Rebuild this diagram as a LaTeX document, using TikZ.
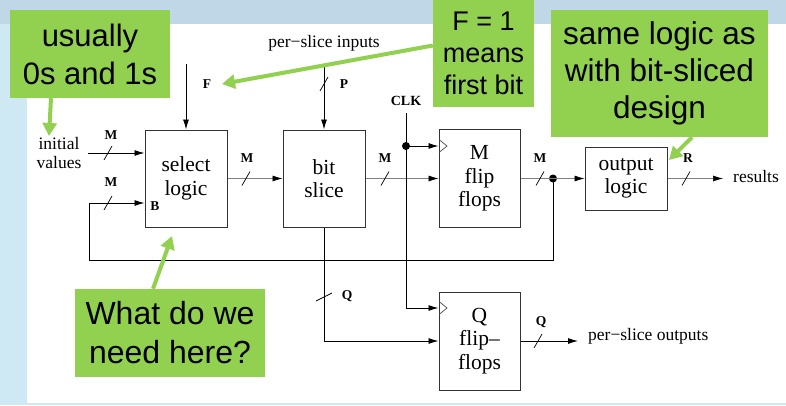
\documentclass[tikz,border=0pt]{standalone}
\usepackage{fontspec}
\setmainfont{Liberation Serif}
\newfontfamily\callfont{Liberation Sans}
\usetikzlibrary{arrows.meta}
\definecolor{callgreen}{RGB}{146,208,80}
\definecolor{topband}{RGB}{191,215,230}
\definecolor{sideband}{RGB}{207,233,244}
\begin{document}
\begin{tikzpicture}[x=1pt,y=-1pt,
  blk/.style={draw=black!80, line width=1pt, minimum width=82pt, minimum height=97pt, align=center, font=\fontsize{21.5}{23.5}\selectfont, inner sep=0pt},
  wire/.style={line width=0.9pt},
  gwire/.style={line width=0.6pt, draw=black!50},
  arr/.style={-{Latex[length=10pt,width=6pt,color=black]}},
  lbl/.style={font=\bfseries\fontsize{13.5}{14}\selectfont, inner sep=0pt},
  txt/.style={font=\fontsize{17.5}{19}\selectfont, inner sep=0pt, align=center},
  dot/.style={circle, fill=black, inner sep=0pt, minimum size=8pt},
  callout/.style={fill=callgreen, inner sep=0pt, align=center},
  garr/.style={draw=callgreen, line width=4pt, -{Triangle[length=13pt,width=14pt]}},
  busmark/.pic={\draw[line width=0.7pt] (-4,7) -- (4,-7);},
  vbusmark/.pic={\draw[line width=0.7pt] (-8,4) -- (8,-4);}
]
\useasboundingbox (0,0) rectangle (786,405);
\fill[sideband] (0,0) rectangle (786,405);
\fill[topband] (0,0) rectangle (786,24);
\fill[white] (27,24) rectangle (786,403);

% blocks
\node[blk] (sel) at (186,178.5) {select\\logic};
\node[blk] (bit) at (324,178.5) {bit\\slice};
\node[blk, minimum width=81pt, minimum height=98pt] (mff) at (479.5,178.5) {M\\flip\\flops};
\node[blk, minimum height=63pt] (out) at (626,178.5) {output\\logic};
\node[blk, minimum width=81pt, minimum height=98pt] (qff) at (479.5,341) {Q\\flip--\\flops};

% texts
\node[txt] (psi) at (324,43) {per−slice inputs};
\node[txt] (iv) at (59,153) {initial\\values};
\node[txt, anchor=west] (res) at (733,177) {results};
\node[txt, anchor=west] (pso) at (588,336) {per−slice outputs};
\node[lbl, font=\bfseries\fontsize{14}{14}\selectfont] (clk) at (406,101) {CLK};

% labels
\node[lbl] (lM1) at (111,135) {M};
\node[lbl] (lM2) at (111,182) {M};
\node[lbl] (lB) at (155,206) {B};
\node[lbl] (lF) at (207,84) {F};
\node[lbl] (lP) at (344,84) {P};
\node[lbl] (lM3) at (247,158) {M};
\node[lbl] (lM4) at (385,158) {M};
\node[lbl] (lM5) at (540,158) {M};
\node[lbl] (lR) at (688,158) {R};
\node[lbl] (lQ1) at (347,296) {Q};
\node[lbl] (lQ2) at (541,322) {Q};

% inputs
\coordinate (Ftop) at (186,64);
\draw[wire,arr] (Ftop) -- (sel.north);
\coordinate (Ptop) at (324,67);
\draw[wire,arr] (Ptop) -- (bit.north);
\pic at (324,84) {busmark};
\coordinate (ivs) at (88,153);
\draw[wire,arr] (ivs) -- (ivs -| sel.west);
\pic at (108,153) {busmark};

% data path
\draw[gwire,arr] (sel.east) -- (bit.west);
\pic at (246,178.5) {busmark};
\draw[gwire,arr] (bit.east) -- (mff.west);
\pic at (385,178.5) {busmark};
\node[dot] (dotM) at (553,178.5) {};
\draw[gwire,arr] (mff.east) -- (out.west);
\pic at (540,178.5) {busmark};
\draw[gwire,arr] (out.east) -- ([xshift=-10pt]res.west |- out.east);
\pic at (686,178.5) {busmark};

% feedback
\coordinate (fbL) at (89,203);
\draw[wire,arr] (dotM.center) -- (553,260) -| (fbL) -- (fbL -| sel.west);
\pic at (108,203) {busmark};

% clock
\coordinate (clktop) at (406,113);
\node[dot] (dotC) at (406,146) {};
\coordinate (clkbot) at (406,308);
\draw[wire] (clktop) -- (dotC.center);
\draw[wire,arr] (dotC.center) -- (dotC -| mff.west);
\draw[wire,arr] (dotC.center) -- (clkbot) -- (clkbot -| qff.west);
\draw[line width=0.7pt, black!70] (439,139.5) -- (447,146) -- (439,152.5);
\draw[line width=0.7pt, black!70] (439,301.5) -- (447,308) -- (439,314.5);

% Q path
\draw[wire,arr] (bit.south) |- (qff.west);
\pic at (324,297) {vbusmark};
\draw[wire,arr] (qff.east) -- ([xshift=-10pt]pso.west |- qff.east);
\pic at (538,341) {busmark};

% callouts
\node[callout, minimum width=160pt, minimum height=88pt, font=\callfont\fontsize{31}{38}\selectfont] (usual) at (90,54) {usually\\0s and 1s};
\node[callout, minimum width=101pt, minimum height=107pt, font=\callfont\fontsize{27}{32}\selectfont] (fone) at (483.5,53.5) {F = 1\\means\\first bit};
\node[callout, minimum width=217pt, minimum height=127pt, font=\callfont\fontsize{31.5}{37}\selectfont] (same) at (659.5,73.5) {same logic as\\with bit-sliced\\design};
\node[callout, minimum width=190pt, minimum height=88pt, font=\callfont\fontsize{32}{39}\selectfont] (what) at (170,333) {What do we\\need here?};

\coordinate (usualtip) at (49,136);
\coordinate (ftip) at (222,84);
\coordinate (sametip) at (669,160);
\coordinate (whattip) at (172,236);
\draw[garr] ([xshift=-39pt]usual.south) -- (usualtip);
\draw[garr] ([yshift=8pt]fone.west) -- (ftip);
\draw[garr] ([xshift=32.5pt]same.south) -- (sametip);
\draw[garr] ([xshift=-17pt]what.north) -- (whattip);
\end{tikzpicture}
\end{document}
